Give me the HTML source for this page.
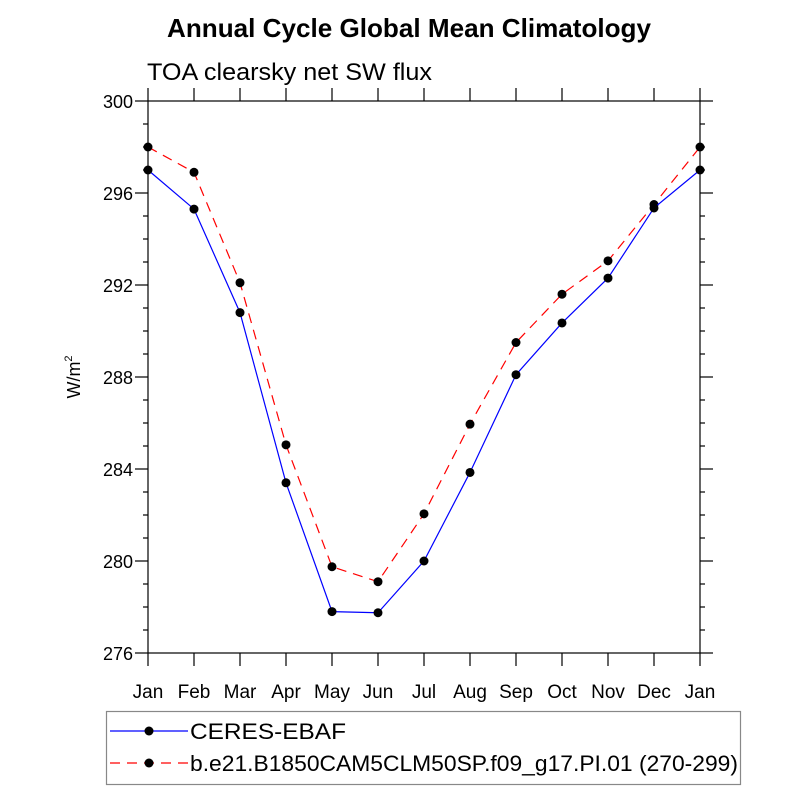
<!DOCTYPE html>
<html><head><meta charset="utf-8"><style>
body{margin:0;background:#fff;}
svg{font-family:"Liberation Sans",sans-serif;}
</style></head><body>
<svg id="chart" width="800" height="800" xmlns="http://www.w3.org/2000/svg">
<text x="409" y="37" text-anchor="middle" font-size="26" font-weight="bold" textLength="484" lengthAdjust="spacingAndGlyphs">Annual Cycle Global Mean Climatology</text>
<text x="147" y="80" font-size="24" textLength="285" lengthAdjust="spacingAndGlyphs">TOA clearsky net SW flux</text>
<text transform="translate(80,377) rotate(-90)" text-anchor="middle" font-size="18">W/m<tspan font-size="11" dy="-8">2</tspan></text>
<g id="axes"></g>
<g id="series"></g>
<g>
<rect x="106.5" y="711.5" width="634" height="73" fill="none" stroke="#888" stroke-width="1.2"/>
<g>
<line x1="110" y1="731" x2="188" y2="731" stroke="#0000ff" stroke-width="1.2"/>
<circle cx="149" cy="731" r="4.5" fill="#000"/>
<text x="190" y="739" font-size="22" textLength="156" lengthAdjust="spacingAndGlyphs">CERES-EBAF</text>
</g>
<g>
<line x1="110" y1="763" x2="188" y2="763" stroke="#ff0000" stroke-width="1.2" stroke-dasharray="10,7"/>
<circle cx="149" cy="763" r="4.5" fill="#000"/>
<text x="190" y="771" font-size="22" textLength="548" lengthAdjust="spacingAndGlyphs">b.e21.B1850CAM5CLM50SP.f09_g17.PI.01 (270-299)</text>
</g>
</g>
</svg>
<script>
const months = ["Jan","Feb","Mar","Apr","May","Jun","Jul","Aug","Sep","Oct","Nov","Dec","Jan"];
const ceres = [297.0,295.3,290.8,283.4,277.8,277.75,280.0,283.85,288.1,290.35,292.3,295.35,297.0];
const model = [298.0,296.9,292.1,285.05,279.75,279.1,282.05,285.95,289.5,291.6,293.05,295.5,298.0];
const yTicks = [276,280,284,288,292,296,300];
const X0=148,X1=700,Y0=101,Y1=653,YMIN=276,YMAX=300;
const xS=i=>X0+(X1-X0)*i/(months.length-1);
const yS=v=>Y1-(Y1-Y0)*(v-YMIN)/(YMAX-YMIN);
const NS="http://www.w3.org/2000/svg";
function mk(tag,attrs,parent){const e=document.createElementNS(NS,tag);for(const k in attrs)e.setAttribute(k,attrs[k]);parent.appendChild(e);return e;}
const ax=document.getElementById('axes');
const frame=mk('rect',{x:X0,y:Y0,width:X1-X0,height:Y1-Y0,fill:'none',stroke:'#000','stroke-width':1.2},ax);


for(let v=YMIN;v<=YMAX;v++){
  const major=yTicks.includes(v);const L=major?13:5;const y=yS(v);
  mk('line',{x1:X0-L,y1:y,x2:X0,y2:y,stroke:'#000','stroke-width':1.2},ax);
  mk('line',{x1:X1,y1:y,x2:X1+L,y2:y,stroke:'#000','stroke-width':1.2},ax);
}
yTicks.forEach(v=>{
  const t=mk('text',{x:X0-15,y:yS(v)+7,'text-anchor':'end','font-size':18},ax);
  t.textContent=v;
  
  
});
months.forEach((m,i)=>{
  const x=xS(i);
  mk('line',{x1:x,y1:Y1,x2:x,y2:Y1+13,stroke:'#000','stroke-width':1.2},ax);
  mk('line',{x1:x,y1:Y0-13,x2:x,y2:Y0,stroke:'#000','stroke-width':1.2},ax);
  const t=mk('text',{x:x,y:Y1+45,'text-anchor':'middle','font-size':19},ax);
  t.textContent=m;
  
  
});
const sg=document.getElementById('series');
function drawSeries(vals,color,dash,name){
  const g=mk('g',{},sg);
  
  
  const pts=vals.map((v,i)=>xS(i)+','+yS(v)).join(' ');
  const attrs={points:pts,fill:'none',stroke:color,'stroke-width':1.2};
  if(dash)attrs['stroke-dasharray']=dash;
  mk('polyline',attrs,g);
  vals.forEach((v,i)=>{
    const c=mk('circle',{cx:xS(i),cy:yS(v),r:4.5,fill:'#000'},g);
    
    
  });
}
drawSeries(model,'#ff0000','10,7','series-model');
drawSeries(ceres,'#0000ff',null,'series-ceres');
</script>
</body></html>
